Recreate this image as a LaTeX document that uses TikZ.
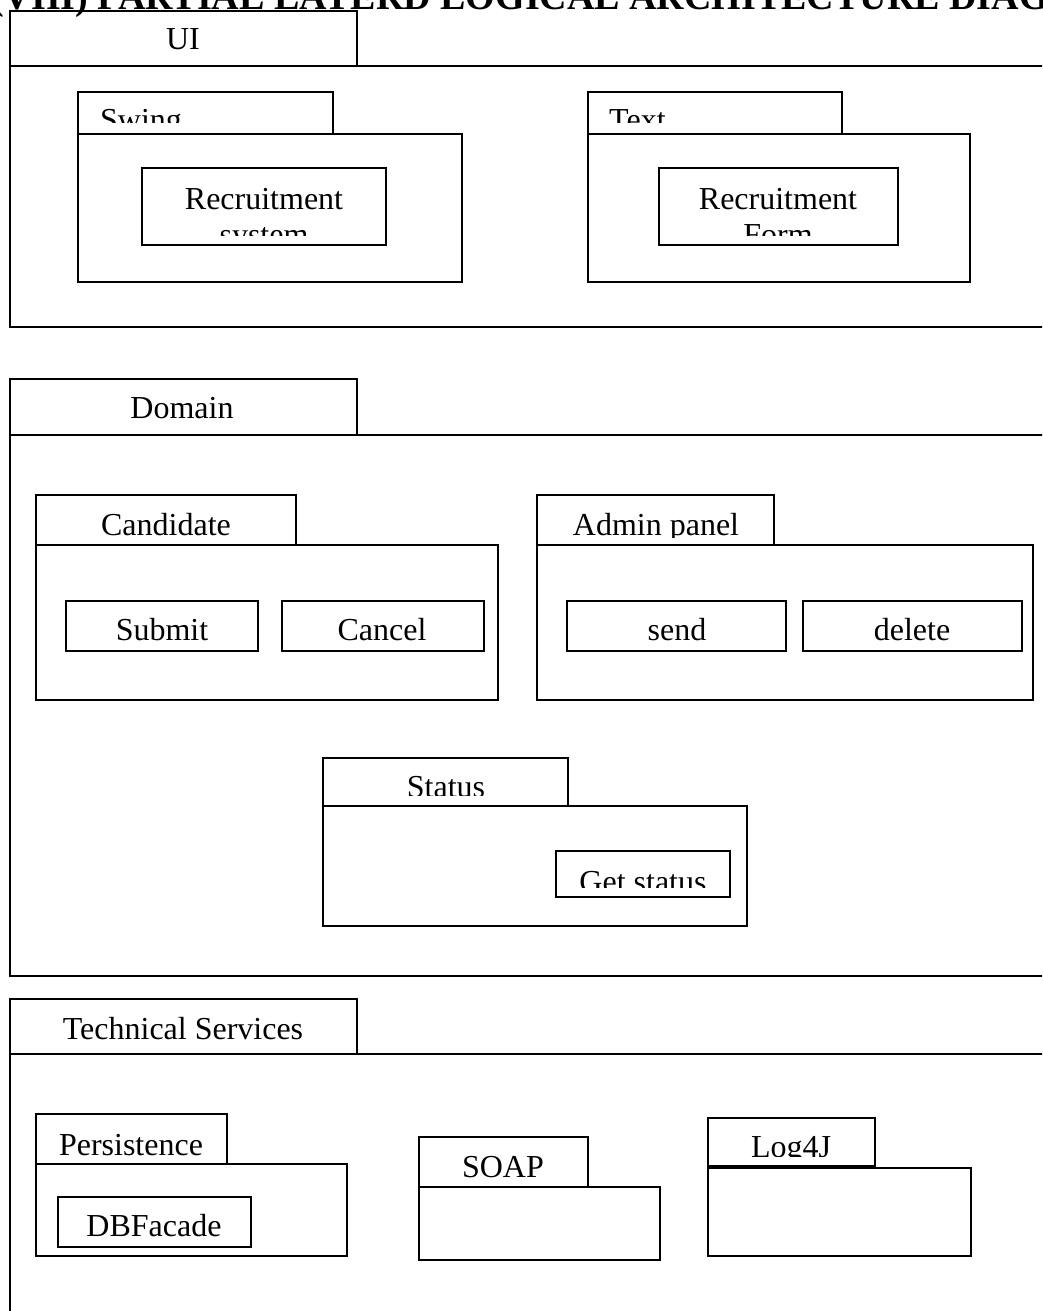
\documentclass[tikz,border=0pt]{standalone}
\usepackage{fontspec}
\setmainfont{Liberation Serif}

\tikzset{
  layer/.style={line width=2.6pt},
  tabline/.style={line width=1.8pt},
  pkg/.style={line width=2pt},
  lbl/.style={inner sep=0pt, anchor=base, font=\fontsize{32}{36}\selectfont},
}

\begin{document}
\begin{tikzpicture}[x=1pt, y=-1pt]
\useasboundingbox (0,0) rectangle (1042,1311);
\clip (0,0) rectangle (1042,1311);

% Heading, cut off at the top
\node[lbl, anchor=base west, font=\fontsize{38}{42}\selectfont\bfseries] (title) at (-9,10) {(VIII) PARTIAL LAYERD LOGICAL ARCHITECTURE DIAGRAM};

% UI layer
\draw[layer] (10,66) rectangle (1080,327);
\draw[tabline] (10,11) rectangle (357,66);
\node[lbl] (ui) at (183,50) {UI};

% Swing package
\draw[pkg] (78,92) rectangle (333,134);
\draw[pkg] (78,134) rectangle (462,282);
\begin{scope}
\clip (78,92) rectangle (333,123);
\node[lbl, anchor=base west] (swing) at (100,130.5) {Swing};
\end{scope}
\draw[pkg] (142,168) rectangle (386,245);
\begin{scope}
\clip (142,168) rectangle (386,235);
\node[lbl, align=center] (recsys) at (264,245) {Recruitment\\system};
\end{scope}

% Text package
\draw[pkg] (588,92) rectangle (842,134);
\draw[pkg] (588,134) rectangle (970,282);
\begin{scope}
\clip (588,92) rectangle (842,123);
\node[lbl, anchor=base west] (text) at (609,130.5) {Text};
\end{scope}
\draw[pkg] (659,168) rectangle (898,245);
\begin{scope}
\clip (659,168) rectangle (898,235);
\node[lbl, align=center] (recform) at (778,245) {Recruitment\\Form};
\end{scope}

% Domain layer
\draw[layer] (10,435) rectangle (1080,976);
\draw[tabline] (10,379) rectangle (357,435);
\node[lbl] (domain) at (182,418) {Domain};

% Candidate package
\draw[pkg] (36,495) rectangle (296,545);
\draw[pkg] (36,545) rectangle (498,700);
\node[lbl] (cand) at (166,535) {Candidate};
\draw[pkg] (66,601) rectangle (258,651);
\node[lbl] (submit) at (162,640) {Submit};
\draw[pkg] (282,601) rectangle (484,651);
\node[lbl] (cancel) at (382,640) {Cancel};

% Admin panel package
\draw[pkg] (537,495) rectangle (774,545);
\draw[pkg] (537,545) rectangle (1033,700);
\begin{scope}
\clip (537,495) rectangle (774,537);
\node[lbl] (admin) at (656,535) {Admin panel};
\end{scope}
\draw[pkg] (567,601) rectangle (786,651);
\node[lbl] (send) at (677,640) {send};
\draw[pkg] (803,601) rectangle (1022,651);
\node[lbl] (delete) at (912,640) {delete};

% Status package
\draw[pkg] (323,758) rectangle (568,806);
\draw[pkg] (323,806) rectangle (747,926);
\begin{scope}
\clip (323,758) rectangle (568,795);
\node[lbl] (status) at (446,797.5) {Status};
\end{scope}
\draw[pkg] (556,851) rectangle (730,897);
\begin{scope}
\clip (556,851) rectangle (730,887);
\node[lbl] (getstatus) at (643,892.5) {Get status};
\end{scope}

% Technical Services layer
\draw[layer] (10,1054) rectangle (1080,1340);
\draw[tabline] (10,999) rectangle (357,1054);
\node[lbl] (tech) at (183,1039) {Technical Services};

% Persistence package
\draw[pkg] (36,1114) rectangle (227,1164);
\draw[pkg] (36,1164) rectangle (347,1256);
\node[lbl] (persist) at (131,1155) {Persistence};
\draw[pkg] (58,1197) rectangle (251,1247);
\node[lbl] (dbfacade) at (154,1236) {DBFacade};

% SOAP package
\draw[pkg] (419,1137) rectangle (588,1187);
\draw[pkg] (419,1187) rectangle (660,1260);
\node[lbl] (soap) at (503,1177) {SOAP};

% Log4J package
\draw[pkg] (708,1118) rectangle (875,1166);
\draw[pkg] (708,1168) rectangle (971,1256);
\begin{scope}
\clip (708,1118) rectangle (875,1156);
\node[lbl] (logfj) at (791,1157.5) {Log4J};
\end{scope}
\end{tikzpicture}
\end{document}
